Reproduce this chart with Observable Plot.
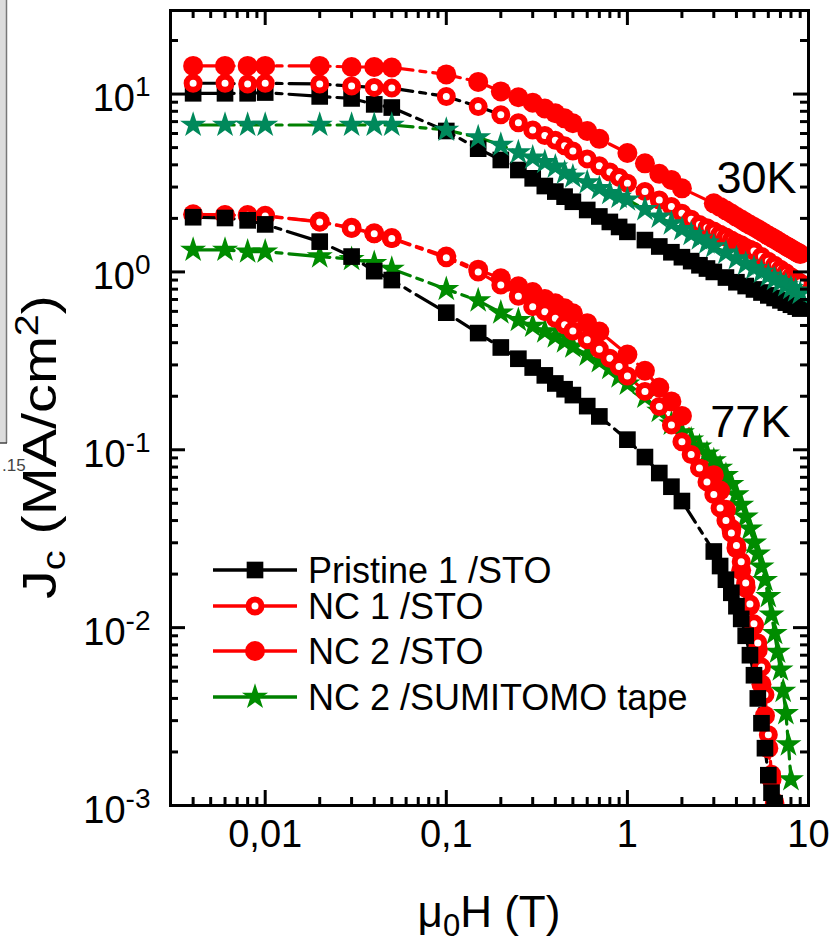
<!DOCTYPE html>
<html>
<head>
<meta charset="utf-8">
<script src="https://cdn.jsdelivr.net/npm/d3@7"></script>
<script src="https://cdn.jsdelivr.net/npm/@observablehq/plot@0.6"></script>
<style>
  body { margin: 0; background: #fff; }
  #wrap { position: relative; width: 830px; height: 941px; overflow: hidden; font-family: "Liberation Sans", Arial, sans-serif; background: #fff; }
  #wrap svg { display: block; }
  .ovl { position: absolute; left: 0; top: 0; pointer-events: none; }
</style>
</head>
<body>
<div id="wrap"></div>
<script>
// ---------------- DATA ----------------
const seriesNames = ["Pristine 1 /STO", "NC 1 /STO", "NC 2 /STO", "NC 2 /SUMITOMO tape"];
const tempLabels = ["30K", "77K"];
const tempLabelH = [3.1, 2.87];
const tempLabelJc = [2.78, 0.118];

const xMajorTicks = [0.01, 0.1, 1, 10];
const xMinorTicks = [0.003,0.004,0.005,0.006,0.007,0.008,0.009,
                     0.02,0.03,0.04,0.05,0.06,0.07,0.08,0.09,
                     0.2,0.3,0.4,0.5,0.6,0.7,0.8,0.9,
                     2,3,4,5,6,7,8,9];
const yMajorTicks = [0.001, 0.01, 0.1, 1, 10];
const yMinorTicks = [0.002,0.003,0.004,0.005,0.006,0.007,0.008,0.009,
                     0.02,0.03,0.04,0.05,0.06,0.07,0.08,0.09,
                     0.2,0.3,0.4,0.5,0.6,0.7,0.8,0.9,
                     2,3,4,5,6,7,8,9,20];

const fieldLow = [0.004,0.006,0.008,0.01,0.02,0.03,0.04,0.05,0.1,0.15,0.2,0.25,0.3,0.35,0.4,0.45,0.5,0.6,0.7];

// 30 K
const pristine30H = [...fieldLow, 0.8,0.9,1,1.25,1.5,1.75,2,2.25,2.5,2.75,3,3.5,4,4.5,5,5.5,6,6.5,7,7.5,8,8.5,9];
const pristine30Jc = [10.1,10.1,10.1,10.2,9.7,9.45,8.75,8.4,6.2,4.93,4.26,3.74,3.36,3.04,2.83,2.65,2.48,2.23,2.05,
  1.91,1.79,1.68,1.51,1.39,1.29,1.21,1.15,1.09,1.045,1.0,0.93,0.875,0.833,0.797,0.766,0.738,0.714,0.692,0.672,0.654,0.638,0.622];

const nc1_30H = [...fieldLow, 0.8,0.9,1,1.25,1.5,1.75,2,2.25,2.5,2.75,3,3.25,3.5,3.75,4,4.25,4.5,4.75,5,5.5,6,6.5,7,7.5,8,8.5,9];
const nc1_30Jc = [11.5,11.5,11.4,11.5,11.4,11.1,10.9,10.8,9.7,8.5,7.65,6.9,6.28,5.85,5.5,5.12,4.78,4.32,3.95,
  3.65,3.4,3.15,2.83,2.54,2.33,2.14,1.98,1.85,1.77,1.70,1.63,1.57,1.51,1.46,1.42,1.37,1.34,1.31,1.22,1.15,1.09,1.035,0.99,0.94,0.905,0.87];

const nc2_30H = [...fieldLow, 1,1.25,1.5,1.75,2, 3,3.25,3.5,3.75,4,4.25,4.5,4.75,5,5.25,5.5,5.75,6,6.25,6.5,6.75,7,7.25,7.5,7.75,8,8.25,8.5,8.75,9];
const nc2_30Jc = [14.4,14.4,14.4,14.4,14.4,14.2,14.2,14.1,12.9,11.7,10.35,9.6,8.95,8.3,7.8,7.3,6.85,6.2,5.6,
  4.66,4.08,3.56,3.29,2.95,
  2.43,2.32,2.22,2.13,2.04,1.97,1.90,1.84,1.79,1.74,1.69,1.645,1.60,1.565,1.53,1.495,1.46,1.43,1.40,1.375,1.35,1.325,1.30,1.28,1.26];

const tape30H = [...fieldLow, 0.8,0.9,1,1.25,1.5,1.75,2,2.25,2.5,2.75,3,3.5,4,4.5,5,5.5,6,6.5,7,7.5,8,8.5,9];
const tape30Jc = [6.7,6.7,6.7,6.7,6.7,6.7,6.7,6.7,6.28,5.7,5.17,4.69,4.38,4.14,3.9,3.6,3.43,3.18,2.95,
  2.77,2.64,2.55,2.25,2.04,1.87,1.74,1.63,1.54,1.46,1.39,1.28,1.19,1.11,1.05,1.0,0.95,0.91,0.875,0.84,0.81,0.785,0.76];

// 77 K
const pristine77H = [...fieldLow, 1,1.25,1.5,1.75,2, 3,3.25,3.5,3.75,4,4.25,4.5,4.75,5,5.25,5.5,5.75,6,6.25,6.5];
const pristine77Jc = [2.03,2.01,1.95,1.85,1.48,1.22,1.01,0.9,0.59,0.453,0.376,0.325,0.29,0.262,0.236,0.219,0.203,0.176,0.154,
  0.114,0.091,0.074,0.062,0.0515,
  0.0268,0.0222,0.0186,0.0157,0.0132,0.0112,0.009,0.007,0.0054,0.004,0.0029,0.0021,0.00148,0.00118,0.00103];

const nc1_77H = [...fieldLow, 0.8,0.9,1,1.25,1.5,1.75,2,2.25,2.5,2.75,3,3.25,3.5,3.75,4,4.25,4.5,4.75,5,5.25,5.5,5.75,6,6.25,6.5];
const nc1_77Jc = [2.1,2.09,2.08,2.06,1.91,1.76,1.64,1.54,1.2,1.0,0.845,0.73,0.638,0.598,0.549,0.505,0.465,0.415,0.368,
  0.327,0.294,0.26,0.213,0.175,0.138,0.111,0.094,0.079,0.066,0.056,0.047,0.040,0.034,0.029,0.0235,0.0178,0.0136,0.0105,0.0082,0.0060,0.0042,0.0025,0.0015,0.00105];

const nc2_77H = [...fieldLow, 1,1.25,1.5,1.75,2, 3,3.25,3.5,3.75,4,4.25,4.5,4.75,5,5.25,5.5,5.75,6,6.25,6.5];
const nc2_77Jc = [2.11,2.09,2.09,2.07,1.92,1.77,1.65,1.55,1.22,1.03,0.92,0.83,0.77,0.705,0.667,0.625,0.586,0.515,0.462,
  0.343,0.278,0.224,0.187,0.155,
  0.072,0.059,0.046,0.036,0.028,0.021,0.0168,0.0133,0.0103,0.0075,0.0048,0.0032,0.0021,0.0014,0.001];

const tape77H = [...fieldLow, 0.8,0.9,1,1.25,1.5,1.75,2,2.25,2.5,2.75,3,3.25,3.5,3.75,4,4.25,4.5,4.75,5,5.25,5.5,5.75,6,6.25,6.5,6.75,7,7.25,7.5,7.75,8];
const tape77Jc = [1.33,1.33,1.30,1.30,1.22,1.18,1.12,1.04,0.80,0.69,0.59,0.535,0.497,0.462,0.433,0.406,0.38,0.342,0.314,
  0.288,0.258,
  0.235,0.198,0.165,0.14,0.125,0.114,0.104,0.095,0.087,0.079,0.072,0.064,0.056,0.049,0.042,0.036,0.030,0.026,0.022,0.0185,0.0150,0.0118,0.0093,0.0073,0.0058,0.0044,0.0033,0.0022,0.0014];

// ---------------- CHART ----------------
const W = 830, H = 941, mL = 170, mR = 22, mT = 10, mB = 136;
const plotW = W - mL - mR, plotH = H - mT - mB;
const RED = "#ff0000", BLACK = "#000000", TEAL = "#00895b", GREEN = "#008c00", GLINE = "#008000";
const dash = "28,7,6,7";

function rows(hs, js) {
  if (hs.length !== js.length) console.error("length mismatch", hs.length, js.length);
  return hs.map((h, i) => ({H: h, Jc: js[i]}));
}
const styles = {
  pristine: {symbol: "square", r: 9.4, fill: BLACK, stroke: "none", sw: 0},
  nc1: {symbol: "circle", r: 6.5, fill: "white", stroke: RED, sw: 6},
  nc2: {symbol: "circle", r: 10, fill: RED, stroke: "none", sw: 0},
  tape30: {symbol: "star", r: 8.2, fill: TEAL, stroke: "none", sw: 0},
  tape77: {symbol: "star", r: 8.2, fill: GREEN, stroke: "none", sw: 0}
};
const layers = [
  // 77 K
  {d: rows(tape77H, tape77Jc), line: GLINE, s: styles.tape77},
  {d: rows(nc2_77H, nc2_77Jc), line: RED, s: styles.nc2},
  {d: rows(nc1_77H, nc1_77Jc), line: RED, s: styles.nc1},
  {d: rows(pristine77H, pristine77Jc), line: BLACK, s: styles.pristine},
  // 30 K
  {d: rows(pristine30H, pristine30Jc), line: BLACK, s: styles.pristine},
  {d: rows(nc1_30H, nc1_30Jc), line: BLACK, s: styles.nc1},
  {d: rows(nc2_30H, nc2_30Jc), line: RED, s: styles.nc2},
  {d: rows(tape30H, tape30Jc), line: GLINE, s: styles.tape30}
];

const lineMarks = layers.map(L => Plot.line(L.d, {x: "H", y: "Jc", stroke: L.line, strokeWidth: 3.2, strokeDasharray: dash, clip: true}));
const dotMarks = layers.map(L => Plot.dot(L.d, {x: "H", y: "Jc", symbol: L.s.symbol, r: L.s.r, fill: L.s.fill, stroke: L.s.stroke, strokeWidth: L.s.sw, clip: true}));

const tickMarks = [
  Plot.tickX(xMajorTicks, {x: d => d, insetTop: plotH - 15, strokeWidth: 3}),
  Plot.tickX(xMajorTicks, {x: d => d, insetBottom: plotH - 15, strokeWidth: 3}),
  Plot.tickX(xMinorTicks, {x: d => d, insetTop: plotH - 8, strokeWidth: 3}),
  Plot.tickX(xMinorTicks, {x: d => d, insetBottom: plotH - 8, strokeWidth: 3}),
  Plot.tickY(yMajorTicks, {y: d => d, insetRight: plotW - 15, strokeWidth: 3}),
  Plot.tickY(yMajorTicks, {y: d => d, insetLeft: plotW - 15, strokeWidth: 3}),
  Plot.tickY(yMinorTicks, {y: d => d, insetRight: plotW - 8, strokeWidth: 3}),
  Plot.tickY(yMinorTicks, {y: d => d, insetLeft: plotW - 8, strokeWidth: 3})
];

const annot = tempLabels.map((t, i) => ({t, H: tempLabelH[i], Jc: tempLabelJc[i]}));

const chart = Plot.plot({
  width: W, height: H,
  marginLeft: mL, marginRight: mR, marginTop: mT, marginBottom: mB,
  style: {fontFamily: '"Liberation Sans", Arial, sans-serif', fontSize: "38px", background: "#fff", color: "#000"},
  x: {type: "log", domain: [0.003, 10], ticks: xMajorTicks, tickFormat: d => String(d).replace(".", ","), tickSize: 0, tickPadding: 15, label: null},
  y: {type: "log", domain: [0.001, 29.5], ticks: yMajorTicks, tickFormat: d => "10^" + Math.round(Math.log10(d)), tickSize: 0, tickPadding: 20, label: null},
  marks: [
    ...lineMarks,
    ...dotMarks,
    Plot.text(annot, {x: "H", y: "Jc", text: "t", textAnchor: "start", lineAnchor: "bottom", fontSize: 45, fill: "#000"}),
    ...tickMarks,
    Plot.frame({stroke: "#000", strokeWidth: 3})
  ]
});

const wrap = document.getElementById("wrap");
wrap.appendChild(chart);

// superscript exponents on the y tick labels
const NS = "http://www.w3.org/2000/svg";
chart.querySelectorAll("text").forEach(t => {
  const m = /^10\^(-?\d+)$/.exec(t.textContent);
  if (m) {
    t.textContent = "";
    const a = document.createElementNS(NS, "tspan");
    a.setAttribute("dy", "5"); a.textContent = "10";
    const b = document.createElementNS(NS, "tspan");
    b.setAttribute("dy", "-15"); b.setAttribute("font-size", "28"); b.textContent = m[1];
    t.append(a, b);
  }
});

// axis titles
const svgRoot = chart.tagName.toLowerCase() === "svg" ? chart : chart.querySelector("svg");
const yTitle = document.createElementNS(NS, "text");
yTitle.setAttribute("transform", "translate(56,447) rotate(-90) scale(1.2,1)");
yTitle.setAttribute("text-anchor", "middle");
yTitle.setAttribute("font-size", "48");
yTitle.setAttribute("fill", "#000");
yTitle.innerHTML = 'J<tspan font-size="33" dy="9">c</tspan><tspan dy="-9"> (MA/cm</tspan><tspan font-size="33" dy="-18">2</tspan><tspan dy="18">)</tspan>';
svgRoot.appendChild(yTitle);

const xTitle = document.createElementNS(NS, "text");
xTitle.setAttribute("x", "489");
xTitle.setAttribute("y", "927");
xTitle.setAttribute("text-anchor", "middle");
xTitle.setAttribute("font-size", "44");
xTitle.setAttribute("fill", "#000");
xTitle.innerHTML = 'μ<tspan font-size="31" dy="9">0</tspan><tspan dy="-9">H (T)</tspan>';
svgRoot.appendChild(xTitle);

// legend overlay
const legendRows = [
  {name: seriesNames[0], y: 570, line: BLACK, s: styles.pristine},
  {name: seriesNames[1], y: 606, line: RED, s: styles.nc1},
  {name: seriesNames[2], y: 651, line: RED, s: styles.nc2},
  {name: seriesNames[3], y: 697, line: GLINE, s: styles.tape77}
];
const symMap = {square: d3.symbolSquare, circle: d3.symbolCircle, star: d3.symbolStar};
const leg = d3.select(wrap).append("svg").attr("class", "ovl").attr("width", W).attr("height", H);
legendRows.forEach(r => {
  leg.append("line").attr("x1", 213).attr("x2", 297).attr("y1", r.y).attr("y2", r.y)
    .attr("stroke", r.line).attr("stroke-width", 3.5);
  leg.append("path").attr("transform", `translate(255,${r.y})`)
    .attr("d", d3.symbol(symMap[r.s.symbol], Math.PI * r.s.r * r.s.r)())
    .attr("fill", r.s.fill).attr("stroke", r.s.stroke).attr("stroke-width", r.s.sw);
  leg.append("text").attr("x", 308).attr("y", r.y).attr("dy", "0.36em")
    .attr("font-size", 36).attr("font-family", '"Liberation Sans", Arial, sans-serif')
    .attr("fill", "#000").text(r.name);
});

// edge of the neighbouring panel, cropped at the left border
const edge = d3.select(wrap).append("svg").attr("class", "ovl").attr("width", 40).attr("height", 480);
edge.append("rect").attr("x", 0).attr("y", 0).attr("width", 6).attr("height", 443).attr("fill", "#dcdcdc");
edge.append("line").attr("x1", 6.5).attr("x2", 6.5).attr("y1", 0).attr("y2", 443).attr("stroke", "#777").attr("stroke-width", 1.5);
edge.append("line").attr("x1", 0).attr("x2", 7).attr("y1", 443).attr("y2", 443).attr("stroke", "#444").attr("stroke-width", 1.5);
edge.append("text").attr("x", 2).attr("y", 471).attr("font-size", 17).attr("fill", "#444")
  .attr("font-family", '"Liberation Sans", Arial, sans-serif').text(".15");
</script>
</body>
</html>
